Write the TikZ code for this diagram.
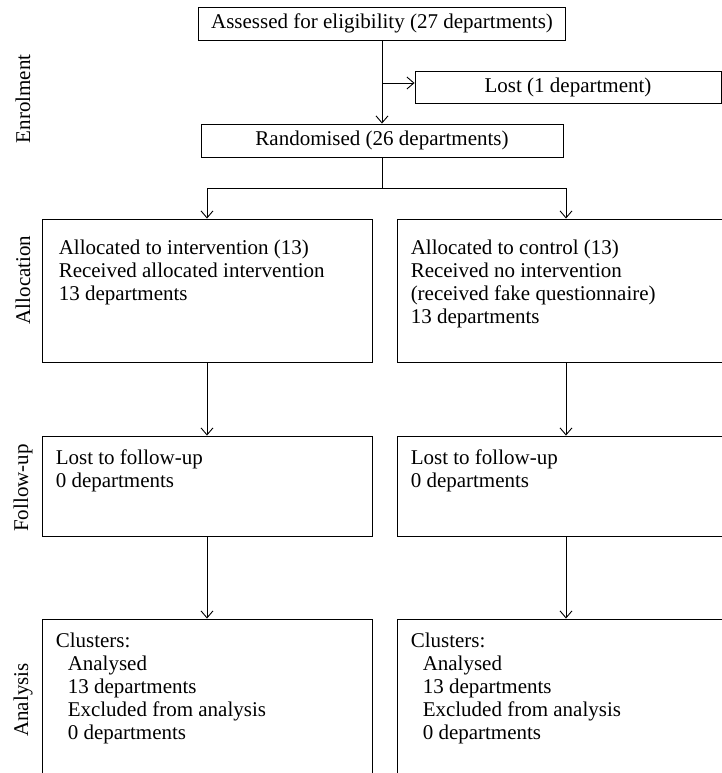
\documentclass[tikz,border=0pt]{standalone}
\usepackage{fontspec}
\setmainfont{Liberation Serif}
\usepackage{tikz}
\usetikzlibrary{arrows.meta, positioning}

\begin{document}
\begin{tikzpicture}[
    x=1pt, y=-1pt,
    every node/.style={font=\fontsize{21}{23}\selectfont},
    box/.style={draw, line width=0.9pt, inner sep=0pt, minimum height=33pt},
    panel/.style={draw, line width=0.9pt, inner sep=0pt, minimum width=330pt},
    txt/.style={inner sep=0pt, align=left, anchor=north west},
    stage/.style={rotate=90},
    link/.style={line width=0.9pt},
    arrow/.style={-{Straight Barb[length=7pt, width=12pt]}, line width=0.9pt},
  ]
    \useasboundingbox (0,0) rectangle (722,773);
    \clip (0,0) rectangle (722,773);

    % Stage labels
    \node[stage] (enrol) at (23,99) {Enrolment};
    \node[stage] (alloc) at (23,280) {Allocation};
    \node[stage] (follow) at (23,488) {Follow-up};
    \node[stage] (analysis) at (23,700) {Analysis};

    % Enrolment
    \node[box, minimum width=367pt] (assess) at (382,23.5)
      {Assessed for eligibility (27 departments)};
    \node[box, minimum width=306pt, minimum height=32pt] (lost) at (568,87)
      {Lost (1 department)};
    \node[box, minimum width=362pt] (rand) at (382,140.5)
      {Randomised (26 departments)};

    % Allocation
    \node[panel, minimum height=143pt] (allocI) at (207,290.5) {};
    \node[panel, minimum height=143pt] (allocC) at (562,290.5) {};
    \node[txt, below right=21pt and 17pt of allocI.north west] (allocItxt)
      {Allocated to intervention (13)\\Received allocated intervention\\13 departments};
    \node[txt, below right=21pt and 14pt of allocC.north west] (allocCtxt)
      {Allocated to control (13)\\Received no intervention\\(received fake questionnaire)\\13 departments};

    % Follow-up
    \node[panel, minimum height=100pt] (followI) at (207,486) {};
    \node[panel, minimum height=100pt] (followC) at (562,486) {};
    \node[txt, below right=14pt and 14pt of followI.north west] (followItxt)
      {Lost to follow-up\\0 departments};
    \node[txt, below right=14pt and 14pt of followC.north west] (followCtxt)
      {Lost to follow-up\\0 departments};

    % Analysis
    \node[panel, minimum height=170pt] (analI) at (207,704) {};
    \node[panel, minimum height=170pt] (analC) at (562,704) {};
    \node[txt, below right=14pt and 14pt of analI.north west] (analItxt)
      {Clusters:\\\hspace*{12pt}Analysed\\\hspace*{12pt}13 departments\\
       \hspace*{12pt}Excluded from analysis\\\hspace*{12pt}0 departments};
    \node[txt, below right=14pt and 14pt of analC.north west] (analCtxt)
      {Clusters:\\\hspace*{12pt}Analysed\\\hspace*{12pt}13 departments\\
       \hspace*{12pt}Excluded from analysis\\\hspace*{12pt}0 departments};

    % Arrows
    \coordinate (splitI) at (207,188);
    \coordinate (splitC) at (566,188);
    \coordinate (lostin) at ([yshift=4pt]lost.west);
    \draw[arrow] (assess) -- (rand);
    \draw[arrow] (assess.south |- lostin) -- (lostin);
    \draw[link] (rand.south) -- (rand.south |- splitI);
    \draw[link] (splitI) -- (splitC);
    \draw[arrow] (splitI) -- (allocI.north);
    \draw[arrow] (splitC) -- (splitC |- allocC.north);
    \draw[arrow] (allocI) -- (followI);
    \draw[arrow] (splitC |- allocC.south) -- (splitC |- followC.north);
    \draw[arrow] (followI) -- (analI);
    \draw[arrow] (splitC |- followC.south) -- (splitC |- analC.north);
\end{tikzpicture}
\end{document}
